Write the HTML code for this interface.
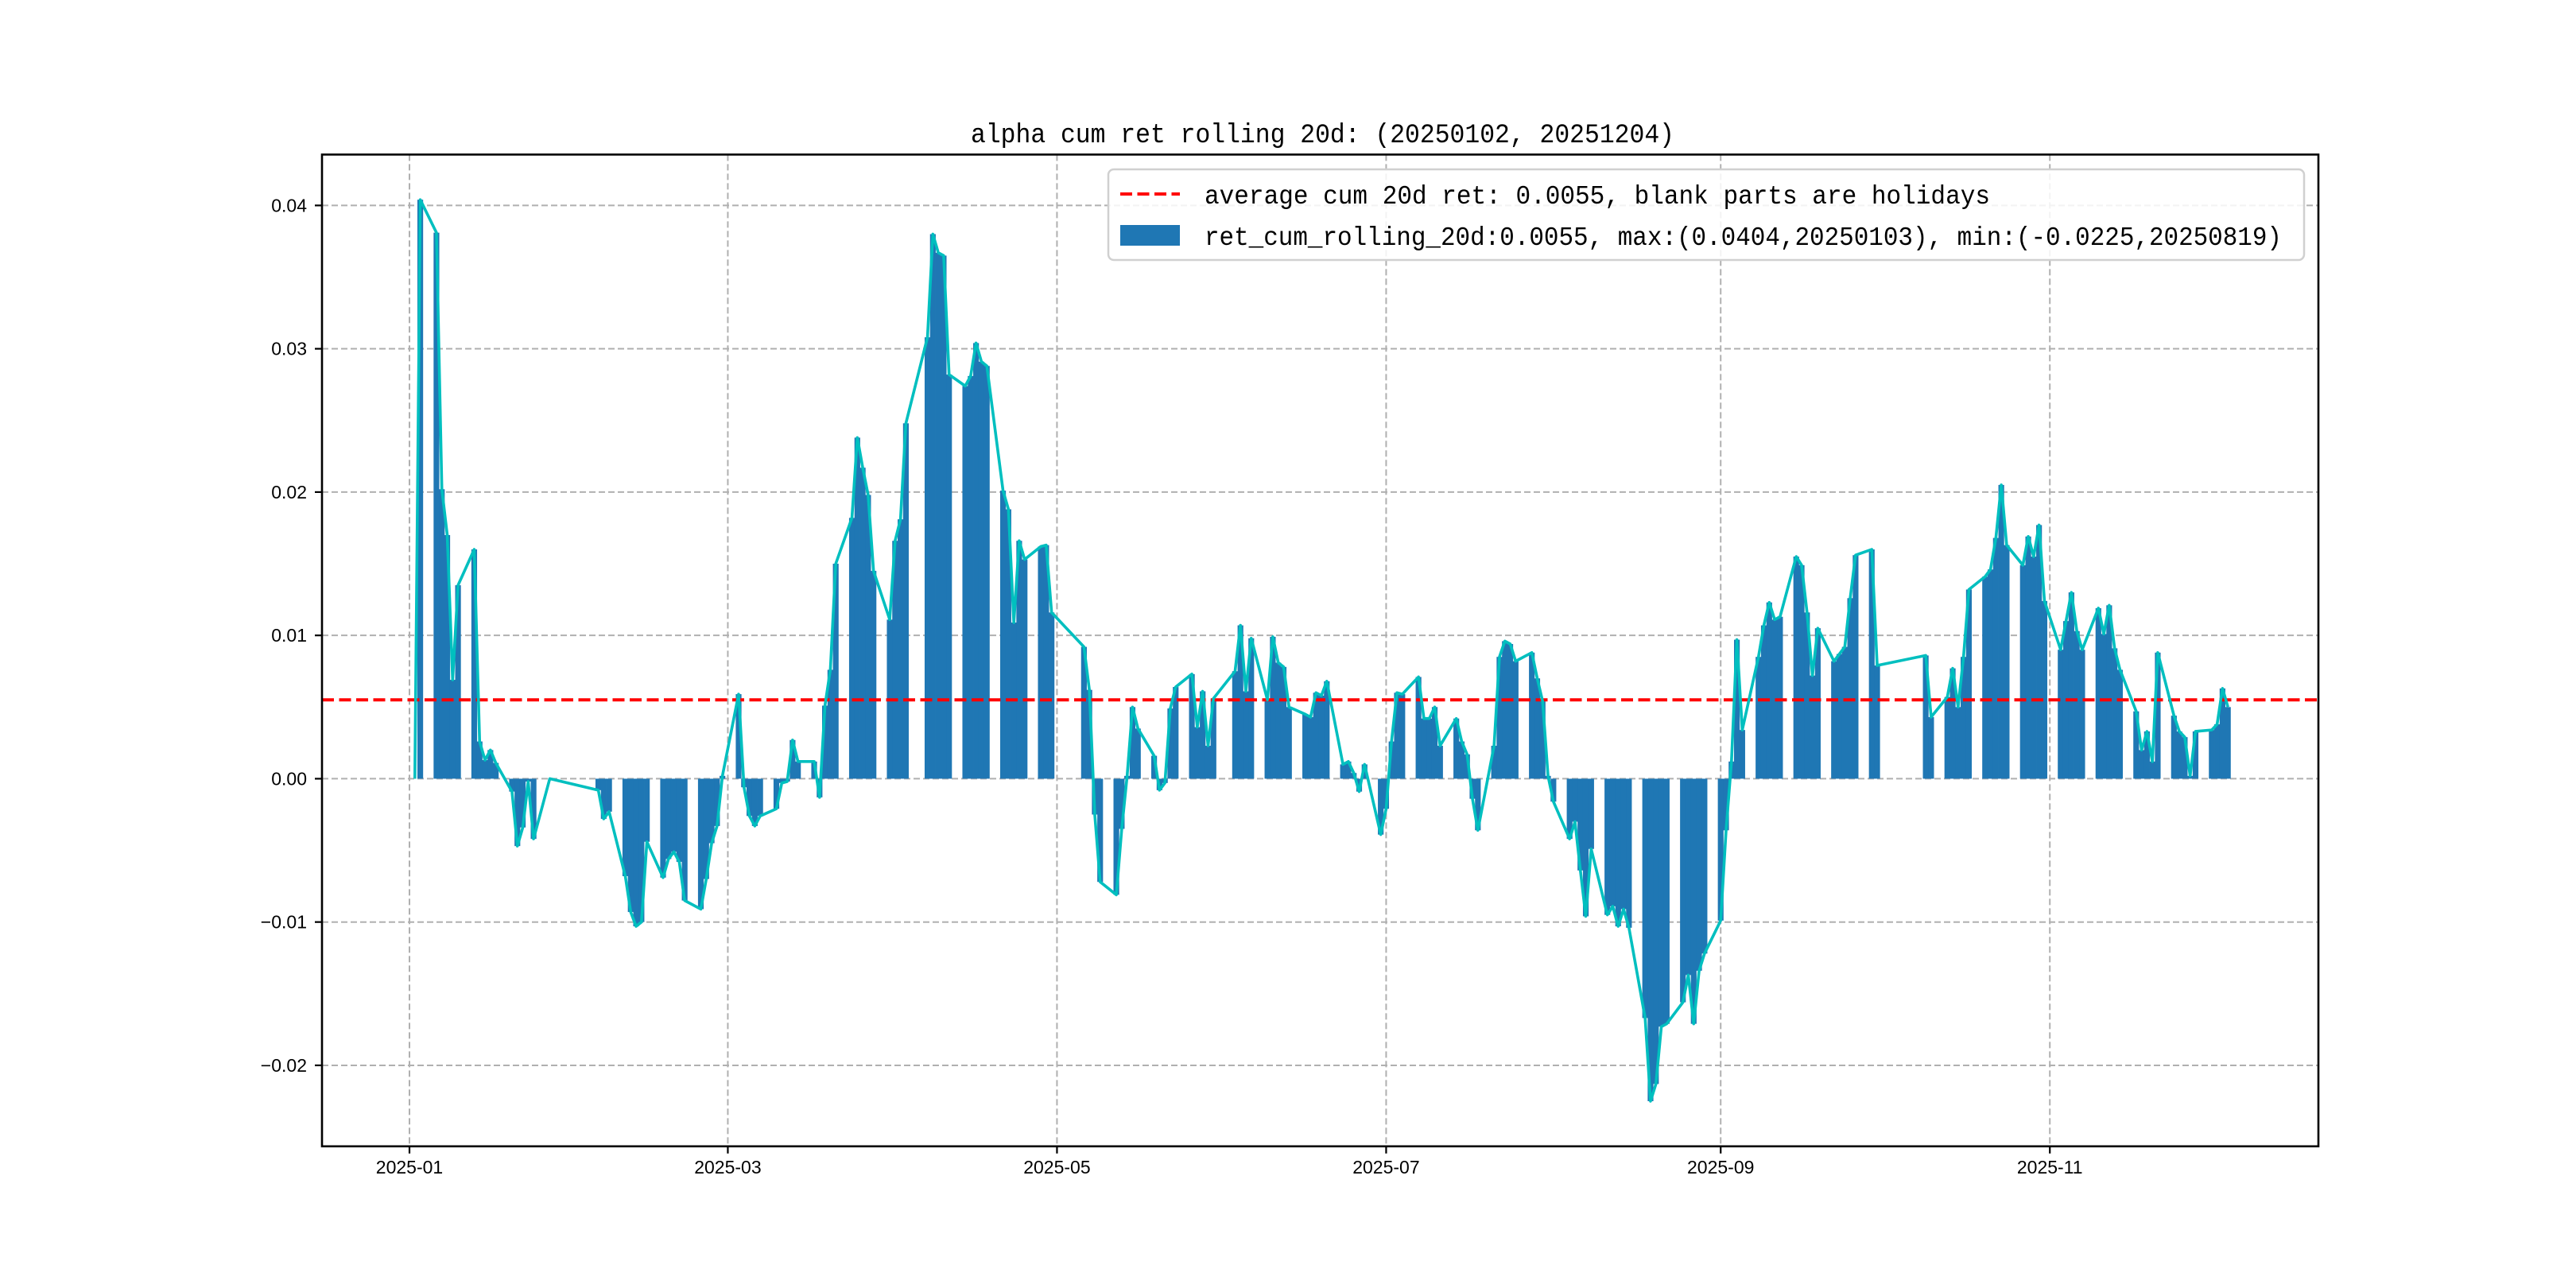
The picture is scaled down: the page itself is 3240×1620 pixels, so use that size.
<!DOCTYPE html>
<html><head><meta charset="utf-8"><style>
html,body{margin:0;padding:0;background:#fff;}
svg{display:block;}
</style></head><body>
<svg id="chart" xmlns="http://www.w3.org/2000/svg" width="3240" height="1620" viewBox="0 0 3240 1620">
<rect x="0" y="0" width="3240" height="1620" fill="#fff"/>
<text x="1221" y="179" font-family="Liberation Mono, monospace" font-size="34" textLength="885" lengthAdjust="spacingAndGlyphs" fill="#000">alpha cum ret rolling 20d: (20250102, 20251204)</text>
<g id="grid"></g>
<g id="bars"></g>
<g id="avgline"></g>
<g id="series"></g>
<g id="axes"></g>
<g>
<rect x="1394" y="213" width="1504" height="114" rx="7" fill="#fff" fill-opacity="0.85" stroke="#d0d0d0" stroke-width="2.5"/>
<line x1="1409" y1="244" x2="1484" y2="244" stroke="#ff0000" stroke-width="4" stroke-dasharray="15,6.5"/>
<text x="1515" y="256" font-family="Liberation Mono, monospace" font-size="33" textLength="988" lengthAdjust="spacingAndGlyphs" fill="#000">average cum 20d ret: 0.0055, blank parts are holidays</text>
<rect x="1409" y="283" width="75" height="26" fill="#1f77b4"/>
<text x="1515" y="308" font-family="Liberation Mono, monospace" font-size="33" textLength="1355" lengthAdjust="spacingAndGlyphs" fill="#000">ret_cum_rolling_20d:0.0055, max:(0.0404,20250103), min:(-0.0225,20250819)</text>
</g>
</svg>
<script>
const dates = ["01-02","01-03","01-06","01-07","01-08","01-09","01-10","01-13","01-14","01-15","01-16","01-17","01-20","01-21","01-22","01-23","01-24","01-27",
"02-05","02-06","02-07","02-10","02-11","02-12","02-13","02-14","02-17","02-18","02-19","02-20","02-21","02-24","02-25","02-26","02-27","02-28",
"03-03","03-04","03-05","03-06","03-07","03-10","03-11","03-12","03-13","03-14","03-17","03-18","03-19","03-20","03-21","03-24","03-25","03-26","03-27","03-28","03-31",
"04-01","04-02","04-03","04-07","04-08","04-09","04-10","04-11","04-14","04-15","04-16","04-17","04-18","04-21","04-22","04-23","04-24","04-25","04-28","04-29","04-30",
"05-06","05-07","05-08","05-09","05-12","05-13","05-14","05-15","05-16","05-19","05-20","05-21","05-22","05-23","05-26","05-27","05-28","05-29","05-30",
"06-03","06-04","06-05","06-06","06-09","06-10","06-11","06-12","06-13","06-16","06-17","06-18","06-19","06-20","06-23","06-24","06-25","06-26","06-27","06-30",
"07-01","07-02","07-03","07-04","07-07","07-08","07-09","07-10","07-11","07-14","07-15","07-16","07-17","07-18","07-21","07-22","07-23","07-24","07-25","07-28","07-29","07-30","07-31",
"08-01","08-04","08-05","08-06","08-07","08-08","08-11","08-12","08-13","08-14","08-15","08-18","08-19","08-20","08-21","08-22","08-25","08-26","08-27","08-28","08-29",
"09-01","09-02","09-03","09-04","09-05","09-08","09-09","09-10","09-11","09-12","09-15","09-16","09-17","09-18","09-19","09-22","09-23","09-24","09-25","09-26","09-29","09-30",
"10-09","10-10","10-13","10-14","10-15","10-16","10-17","10-20","10-21","10-22","10-23","10-24","10-27","10-28","10-29","10-30","10-31",
"11-03","11-04","11-05","11-06","11-07","11-10","11-11","11-12","11-13","11-14","11-17","11-18","11-19","11-20","11-21","11-24","11-25","11-26","11-27","11-28",
"12-01","12-02","12-03","12-04"];
const values = [0,0.0404,0.0381,0.0202,0.0170,0.0069,0.0135,0.0160,0.0026,0.0013,0.0020,0.0011,-0.0009,-0.0047,-0.0034,-0.0002,-0.0042,0.0000,
-0.0008,-0.0028,-0.0023,-0.0068,-0.0093,-0.0103,-0.0100,-0.0044,-0.0069,-0.0056,-0.0051,-0.0058,-0.0085,-0.0091,-0.0070,-0.0045,-0.0033,0.0002,
0.0059,-0.0006,-0.0026,-0.0033,-0.0026,-0.0021,-0.0003,-0.0002,0.0027,0.0012,0.0012,-0.0013,0.0051,0.0076,0.0150,0.0182,0.0238,0.0217,0.0198,0.0145,0.0111,
0.0166,0.0181,0.0248,0.0308,0.0380,0.0367,0.0365,0.0282,0.0274,0.0281,0.0304,0.0291,0.0288,0.0201,0.0188,0.0109,0.0166,0.0153,0.0162,0.0163,0.0116,
0.0092,0.0062,-0.0025,-0.0072,-0.0081,-0.0035,0.0002,0.0050,0.0035,0.0016,-0.0008,-0.0003,0.0049,0.0064,0.0073,0.0036,0.0061,0.0023,0.0056,
0.0075,0.0107,0.0061,0.0098,0.0055,0.0099,0.0081,0.0078,0.0050,0.0045,0.0043,0.0060,0.0058,0.0068,0.0010,0.0012,0.0004,-0.0009,0.0010,-0.0039,
-0.0021,0.0026,0.0060,0.0059,0.0071,0.0042,0.0042,0.0050,0.0023,0.0042,0.0026,0.0017,-0.0014,-0.0036,0.0023,0.0085,0.0096,0.0094,0.0082,0.0088,0.0070,0.0054,0.0002,
-0.0016,-0.0042,-0.0030,-0.0064,-0.0096,-0.0049,-0.0095,-0.0089,-0.0103,-0.0091,-0.0104,-0.0167,-0.0225,-0.0213,-0.0173,-0.0171,-0.0156,-0.0137,-0.0171,-0.0134,-0.0122,
-0.0099,-0.0036,0.0012,0.0097,0.0034,0.0085,0.0107,0.0123,0.0111,0.0113,0.0155,0.0149,0.0116,0.0072,0.0105,0.0082,0.0087,0.0092,0.0126,0.0156,0.0160,0.0079,
0.0086,0.0043,0.0057,0.0077,0.0050,0.0085,0.0132,0.0141,0.0146,0.0168,0.0205,0.0163,0.0149,0.0169,0.0155,0.0177,0.0124,
0.0090,0.0110,0.0130,0.0103,0.0090,0.0119,0.0101,0.0121,0.0091,0.0076,0.0047,0.0020,0.0033,0.0012,0.0088,0.0044,0.0033,0.0029,0.0002,0.0033,
0.0034,0.0038,0.0063,0.0050];
const avgValue = 0.0055;
const yTicks = [-0.02,-0.01,0.00,0.01,0.02,0.03,0.04];
const yTickLabels = ["\u22120.02","\u22120.01","0.00","0.01","0.02","0.03","0.04"];
const xTicks = ["01-01","03-01","05-01","07-01","09-01","11-01"];
const xTickLabels = ["2025-01","2025-03","2025-05","2025-07","2025-09","2025-11"];

const NS = "http://www.w3.org/2000/svg";
const AX = {l:405, r:2916, t:194.4, b:1441.8};
const XMIN = -16.21, XMAX = 353.77, YMIN = -0.02565, YMAX = 0.04355;
function dayOf(md){ const [m,d] = md.split("-").map(Number); return (Date.UTC(2025,m-1,d) - Date.UTC(2025,0,1))/86400000; }
function xs(md){ return AX.l + (dayOf(md) - XMIN) / (XMAX - XMIN) * (AX.r - AX.l); }
function ys(v){ return AX.b - (v - YMIN) / (YMAX - YMIN) * (AX.b - AX.t); }
const dayW = (AX.r - AX.l) / (XMAX - XMIN);
function mk(tag, attrs, parent){ const e = document.createElementNS(NS, tag); for (const k in attrs) e.setAttribute(k, attrs[k]); parent.appendChild(e); return e; }

const grid = document.getElementById("grid");
yTicks.forEach((t,i)=>{
  const g = mk("line",{x1:AX.l,x2:AX.r,y1:ys(t),y2:ys(t),stroke:"#b0b0b0","stroke-width":2,"stroke-dasharray":"8,4"},grid);
  
  
});
xTicks.forEach((t,i)=>{
  const g = mk("line",{x1:xs(t),x2:xs(t),y1:AX.t,y2:AX.b,stroke:"#b0b0b0","stroke-width":2,"stroke-dasharray":"8,4"},grid);
  
  
});

const bars = document.getElementById("bars");
const y0 = ys(0);
dates.forEach((d,i)=>{
  const yv = ys(values[i]);
  const r = mk("rect",{x:xs(d)-dayW/2-0.2,y:Math.min(yv,y0),width:dayW+0.4,height:Math.abs(yv-y0),fill:"#1f77b4"},bars);
  
  
});

const avg = document.getElementById("avgline");
const al = mk("line",{x1:AX.l,x2:AX.r,y1:ys(avgValue),y2:ys(avgValue),stroke:"#ff0000","stroke-width":4,"stroke-dasharray":"15,6.5"},avg);



const series = document.getElementById("series");
const pts = dates.map((d,i)=>xs(d).toFixed(2)+","+ys(values[i]).toFixed(2)).join(" ");
const pl = mk("polyline",{points:pts,fill:"none",stroke:"#00bfbf","stroke-width":3.6,"stroke-linejoin":"round"},series);



const axes = document.getElementById("axes");
const frame = mk("rect",{x:AX.l,y:AX.t,width:AX.r-AX.l,height:AX.b-AX.t,fill:"none",stroke:"#000","stroke-width":2.6},axes);


yTicks.forEach((t,i)=>{
  const tk = mk("line",{x1:AX.l-9,x2:AX.l,y1:ys(t),y2:ys(t),stroke:"#000","stroke-width":2.2},axes);
  
  
  const tx = mk("text",{x:386,y:ys(t)+8,"text-anchor":"end","font-family":"Liberation Sans, sans-serif","font-size":23,fill:"#000"},axes);
  tx.textContent = yTickLabels[i];
  
  
});
xTicks.forEach((t,i)=>{
  const tk = mk("line",{x1:xs(t),x2:xs(t),y1:AX.b,y2:AX.b+9,stroke:"#000","stroke-width":2.2},axes);
  
  
  const tx = mk("text",{x:xs(t),y:1476,"text-anchor":"middle","font-family":"Liberation Sans, sans-serif","font-size":23,fill:"#000"},axes);
  tx.textContent = xTickLabels[i];
  
  
});
</script>
</body></html>
